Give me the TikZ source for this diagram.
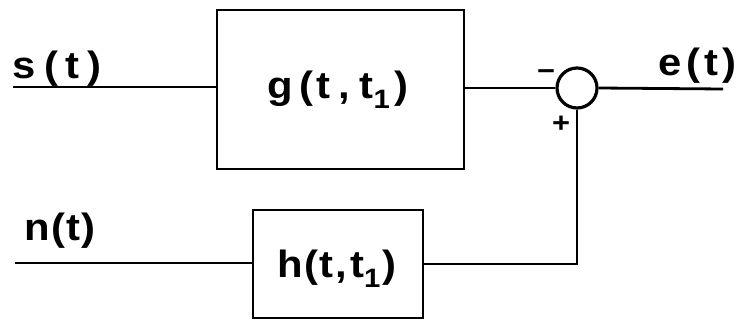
\documentclass[tikz,border=0pt]{standalone}
\usepackage{fontspec}
\setmainfont{Liberation Sans}[FakeStretch=1.1]
\newcommand\gp[1]{\kern#1pt\relax}
\tikzset{
  wire/.style={line width=2.8pt},
  blockbox/.style={draw, line width=2.6pt, rectangle, inner sep=0pt},
  sumnode/.style={draw, line width=3.2pt, circle, minimum size=40pt, inner sep=0pt},
  lbl/.style={inner sep=0pt, font=\fontsize{#1}{#1}\selectfont\bfseries},
  lbl/.default=38,
  sgn/.style={inner sep=0pt, font=\fontsize{28}{28}\selectfont\bfseries}
}
\begin{document}
\begin{tikzpicture}[x=1pt,y=-1pt]
\useasboundingbox (0,0) rectangle (743,323);
% blocks
\node[blockbox, minimum width=247pt, minimum height=159pt] (g) at (340.5,89.5) {};
\node[lbl] (gt) at (338,90) {g\gp{6}(\gp{3}t\gp{8},\gp{10}t\textsubscript{1}\gp{4})};
\node[blockbox, minimum width=170pt, minimum height=108pt] (h) at (338,264) {};
\node[lbl] (ht) at (337,269) {h\gp{2}(\gp{1}t\gp{2},\gp{3}t\textsubscript{1}\gp{2})};
\node[sumnode] (sum) at (577,88) {};
% coordinates
\coordinate (sin) at (13,87);
\coordinate (nin) at (15,263);
\coordinate (eout) at (723,89);
% wires
\draw[wire] (sin) -- (sin -| g.west);
\draw[wire] (g.east |- sum.west) -- (sum.west);
\draw[wire] (sum.east) -- (eout);
\draw[wire] (nin) -- (nin -| h.west);
\draw[wire] (h.east) -| (sum.south);
% labels
\node[lbl] (sl) at (57,69) {s\gp{8}(\gp{7}t\gp{8})};
\node[lbl] (el) at (697,66) {e\gp{5}(\gp{4}t\gp{4})};
\node[lbl] (nl) at (60,231) {n\gp{1}(\gp{1}t\gp{1})};
\node[sgn] (minus) at (546,75) {−};
\node[sgn] (plus) at (561,124) {+};
\end{tikzpicture}
\end{document}
